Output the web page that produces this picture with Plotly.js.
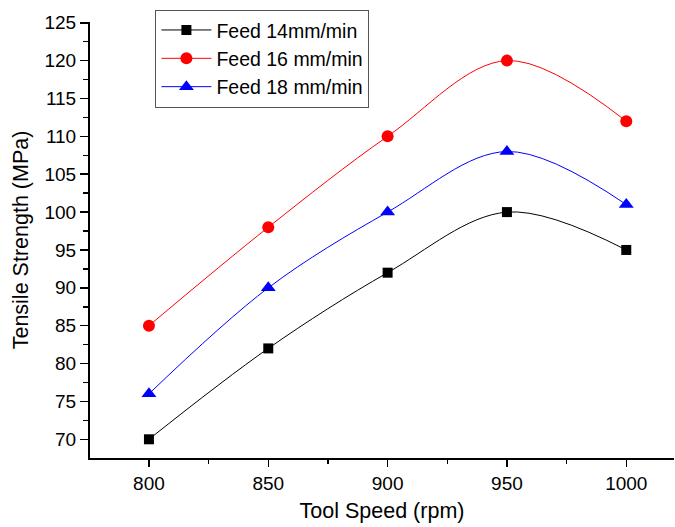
<!DOCTYPE html>
<html>
<head>
<meta charset="utf-8">
<script src="https://cdn.plot.ly/plotly-3.0.1.min.js"></script>
<style>html,body{margin:0;padding:0;background:#fff;}#chart{width:675px;height:527px;}</style>
</head>
<body>
<div id="chart"></div>
<script>
const toolSpeed = [800, 850, 900, 950, 1000];
const feed14 = [70, 82, 92, 100, 95];
const feed16 = [85, 98, 110, 120, 112];
const feed18 = [76, 90, 100, 108, 101];
const seriesNames = ["Feed 14mm/min", "Feed 16 mm/min", "Feed 18 mm/min"];
const xTicks = [800, 850, 900, 950, 1000];
const yTicks = [70, 75, 80, 85, 90, 95, 100, 105, 110, 115, 120, 125];

const font = "'Liberation Sans', Arial, sans-serif";
function tr(y, name, color, symbol, size) {
  return {
    x: toolSpeed, y: y, name: name, type: 'scatter', mode: 'lines+markers',
    line: {color: color, width: 1, shape: 'spline', smoothing: 1},
    marker: {color: color, symbol: symbol, size: size}
  };
}
const data = [
  tr(feed14, seriesNames[0], '#000000', 'square', 10),
  tr(feed16, seriesNames[1], '#ff0000', 'circle', 12),
  tr(feed18, seriesNames[2], '#0000ff', 'triangle-up', 13)
];
const layout = {
  width: 675, height: 527,
  margin: {l: 90, r: 1, t: 22, b: 69},
  paper_bgcolor: '#fff', plot_bgcolor: '#fff',
  font: {family: font, size: 19, color: '#000'},
  showlegend: true,
  legend: {
    x: 0.112, y: 1.028, xanchor: 'left', yanchor: 'top',
    bordercolor: '#555', borderwidth: 1, bgcolor: '#fff',
    font: {family: font, size: 19.5, color: '#000'},
    tracegroupgap: 0, itemwidth: 50
  },
  xaxis: {
    range: [775.3, 1020], tickvals: xTicks, ticks: 'outside', ticklen: 7, tickwidth: 1.5,
    tickcolor: '#000', showline: true, linecolor: '#000', linewidth: 2, showgrid: false, zeroline: false,
    minor: {dtick: 25, ticks: 'outside', ticklen: 4, tickwidth: 1.5, tickcolor: '#000'},
    title: {text: 'Tool Speed (rpm)', font: {family: font, size: 21.5}, standoff: 10},
    tickfont: {family: font, size: 19}
  },
  yaxis: {
    range: [67.53, 125.1], tickvals: yTicks, ticks: 'outside', ticklen: 8, tickwidth: 1.5,
    tickcolor: '#000', showline: true, linecolor: '#000', linewidth: 2, showgrid: false, zeroline: false,
    minor: {dtick: 2.5, ticks: 'outside', ticklen: 5, tickwidth: 1.5, tickcolor: '#000'},
    title: {text: 'Tensile Strength (MPa)', font: {family: font, size: 21.5}, standoff: 10},
    tickfont: {family: font, size: 19}
  }
};
Plotly.newPlot('chart', data, layout, {displayModeBar: false, staticPlot: true});
</script>
</body>
</html>
